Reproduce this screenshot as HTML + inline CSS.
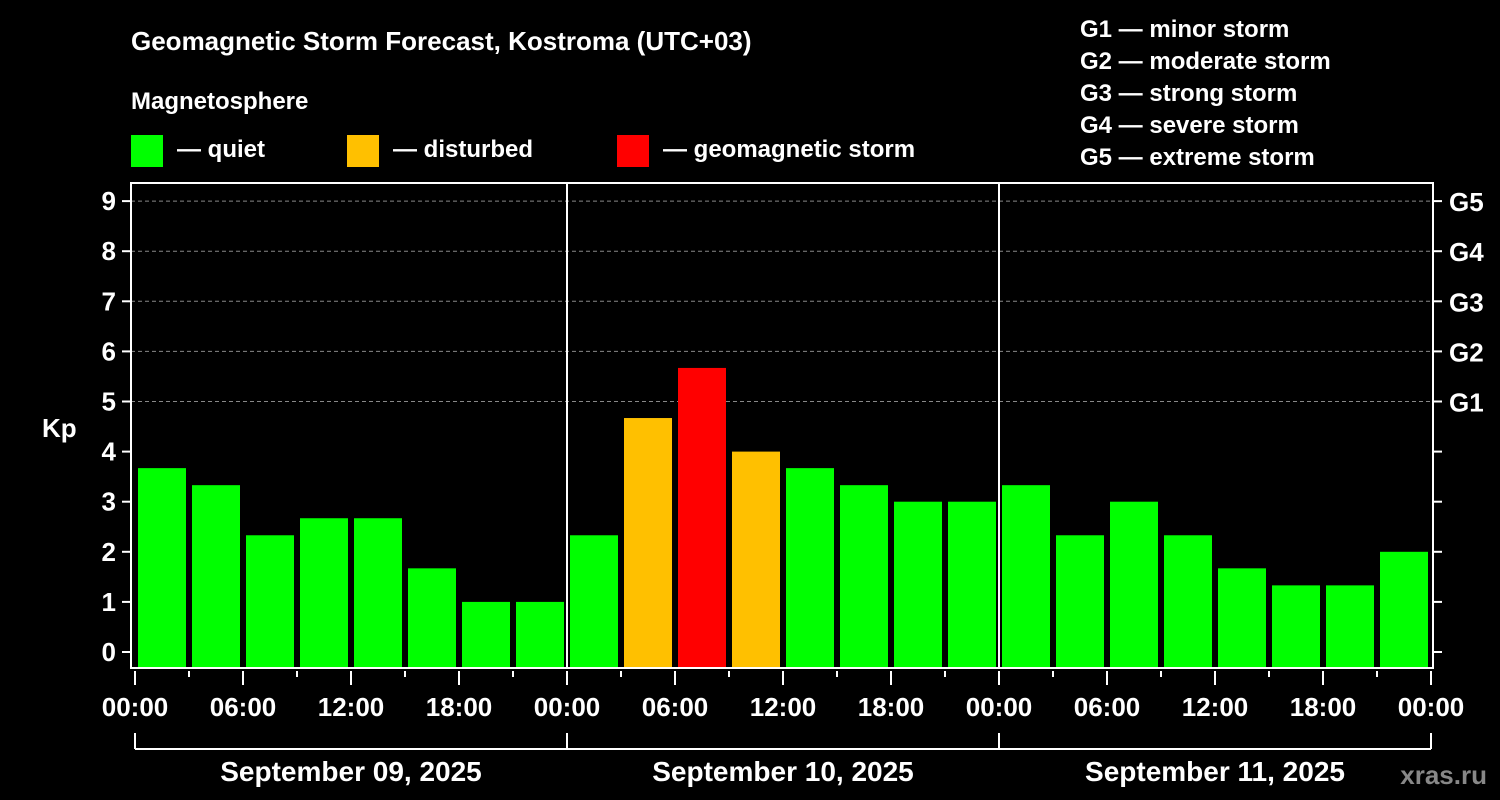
<!DOCTYPE html>
<html><head><meta charset="utf-8"><style>
html,body{margin:0;padding:0;background:#000;}
svg{display:block;font-family:"Liberation Sans",Arial,sans-serif;font-weight:bold;}
</style></head><body>
<svg id="chart" width="1500" height="800" viewBox="0 0 1500 800">
<rect width="1500" height="800" fill="#000"/>
<text x="131" y="50" fill="#fff" font-size="26">Geomagnetic Storm Forecast, Kostroma (UTC+03)</text>
<text x="131" y="109" fill="#fff" font-size="24">Magnetosphere</text>
<g><rect x="131" y="135" width="32" height="32" fill="#00ff00"/><text x="177" y="157" fill="#fff" font-size="24">— quiet</text></g>
<g><rect x="347" y="135" width="32" height="32" fill="#ffc000"/><text x="393" y="157" fill="#fff" font-size="24">— disturbed</text></g>
<g><rect x="617" y="135" width="32" height="32" fill="#ff0000"/><text x="663" y="157" fill="#fff" font-size="24">— geomagnetic storm</text></g>
<g fill="#fff" font-size="24">
<text x="1080" y="37">G1 — minor storm</text>
<text x="1080" y="69">G2 — moderate storm</text>
<text x="1080" y="101">G3 — strong storm</text>
<text x="1080" y="133">G4 — severe storm</text>
<text x="1080" y="165">G5 — extreme storm</text>
</g>
<text x="42" y="437" fill="#fff" font-size="26">Kp</text>
<text x="1487" y="784" fill="#888" font-size="26" text-anchor="end">xras.ru</text>
<g id="grid"></g><g id="bars"></g><g id="axes"></g>
</svg>
<script>
const kpValues=[3.67,3.33,2.33,2.67,2.67,1.67,1,1, 2.33,4.67,5.67,4,3.67,3.33,3,3, 3.33,2.33,3,2.33,1.67,1.33,1.33,2];
const dayLabels=["September 09, 2025","September 10, 2025","September 11, 2025"];
const hourLabels=["00:00","06:00","12:00","18:00"];
const yTicks=[0,1,2,3,4,5,6,7,8,9];
const gLabels=["G1","G2","G3","G4","G5"];
const NS="http://www.w3.org/2000/svg";
const x0=135, slot=54, plotL=131, plotR=1433, plotT=183, plotB=668;
const y=v=>652-v*50.1;
const x=i=>x0+i*slot;
function mk(t,a,p){const e=document.createElementNS(NS,t);for(const k in a)e.setAttribute(k,a[k]);p.appendChild(e);return e;}
const grid=document.getElementById('grid'),bars=document.getElementById('bars'),axes=document.getElementById('axes');
yTicks.forEach(v=>{
  if(v>=5){const l=mk('line',{x1:plotL,x2:plotR,y1:y(v),y2:y(v),stroke:'#888','stroke-dasharray':'4,3','stroke-width':1},grid);
  
  }
  mk('line',{x1:122,x2:plotL,y1:y(v),y2:y(v),stroke:'#fff','stroke-width':2},axes);
  mk('line',{x1:plotR,x2:1442,y1:y(v),y2:y(v),stroke:'#fff','stroke-width':2},axes);
  const t=mk('text',{x:116,y:y(v)+9,fill:'#fff','font-size':26,'text-anchor':'end'},axes);t.textContent=v;
  
  
});
gLabels.forEach((g,i)=>{const t=mk('text',{x:1449,y:y(5+i)+10,fill:'#fff','font-size':26},axes);t.textContent=g;
  
  });
kpValues.forEach((v,i)=>{
  const c=v>=5?'#ff0000':(v>=4?'#ffc000':'#00ff00');
  const r=mk('rect',{x:x(i)+3,y:y(v),width:48,height:plotB-y(v),fill:c},bars);
  
  
});
const frame=mk('rect',{x:plotL,y:plotT,width:plotR-plotL,height:plotB-plotT,fill:'none',stroke:'#fff','stroke-width':2},axes);


[1,2].forEach(d=>mk('line',{x1:x(d*8),x2:x(d*8),y1:plotT,y2:plotB,stroke:'#fff','stroke-width':2},axes));
for(let i=0;i<=24;i++){
  const major=i%2===0;
  mk('line',{x1:x(i),x2:x(i),y1:671,y2:major?685:677,stroke:'#fff','stroke-width':2},axes);
  if(major){const t=mk('text',{x:x(i),y:716,fill:'#fff','font-size':26,'text-anchor':'middle'},axes);
    t.textContent=hourLabels[(i/2)%4];
    
    }
}
mk('line',{x1:x(0),x2:x(24),y1:749,y2:749,stroke:'#fff','stroke-width':2},axes);
for(let d=0;d<=3;d++)mk('line',{x1:x(d*8),x2:x(d*8),y1:733,y2:749,stroke:'#fff','stroke-width':2},axes);
dayLabels.forEach((s,d)=>{const t=mk('text',{x:x(d*8+4),y:781,fill:'#fff','font-size':28,'text-anchor':'middle'},axes);t.textContent=s;
  
  });
</script>
</body></html>
